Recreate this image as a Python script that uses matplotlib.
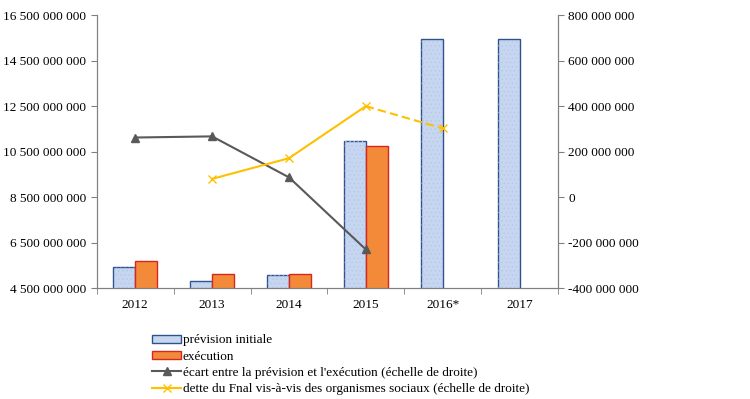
import numpy as np
import matplotlib
matplotlib.use("Agg")
import matplotlib.pyplot as plt
from matplotlib.ticker import FuncFormatter

plt.rcParams['font.family'] = ['Liberation Serif', 'DejaVu Serif']
plt.rcParams['hatch.linewidth'] = 0.4

years = ["2012", "2013", "2014", "2015", "2016*", "2017"]
prevision = [5.44e9, 4.82e9, 5.06e9, 10.96e9, 15.43e9, 15.43e9]
execution = [5.70e9, 5.13e9, 5.13e9, 10.76e9, np.nan, np.nan]
ecart = [262e6, 267e6, 87e6, -230e6, np.nan, np.nan]
dette = [np.nan, 80e6, 171e6, 400e6, 302e6, np.nan]


def fmt(v, pos):
    return f"{int(round(v)):,}".replace(",", " ")


fig = plt.figure(figsize=(7.5, 3.99), dpi=100)
ax = fig.add_axes([0.129, 0.278, 0.615, 0.684])
ax2 = ax.twinx()

x = np.arange(len(years))
w = 0.286
ax.bar(x - w / 2, prevision, w, color='#c6d6f0', edgecolor='#2e528f',
       linewidth=1, label='prévision initiale', zorder=2)
# light texture inside the blue bars
ax.bar(x - w / 2, prevision, w, color='none', edgecolor='#b3c6e8',
       linewidth=0, hatch='....', zorder=2.1)
ax.bar(x + w / 2, execution, w, color='#f28a3a', edgecolor='#d7261e',
       linewidth=1, label='exécution', zorder=2)

ax2.plot(x[:4], ecart[:4], color='#595959', lw=1.5, marker='^', ms=6,
         label="écart entre la prévision et l'exécution (échelle de droite)")
ax2.plot(x[1:4], dette[1:4], color='#ffc000', lw=1.5, marker='x', ms=6,
         label="dette du Fnal vis-à-vis des organismes sociaux (échelle de droite)")
ax2.plot(x[3:5], dette[3:5], color='#ffc000', lw=1.5, ls='--', dashes=(4, 2))
ax2.plot(x[4:5], dette[4:5], color='#ffc000', marker='x', ms=6, ls='none')

ax.set_ylim(4.5e9, 16.5e9)
ax.set_yticks(np.arange(4.5e9, 16.6e9, 2e9))
ax2.set_ylim(-400e6, 800e6)
ax2.set_yticks(np.arange(-400e6, 801e6, 200e6))
ax.yaxis.set_major_formatter(FuncFormatter(fmt))
ax2.yaxis.set_major_formatter(FuncFormatter(fmt))
ax.set_xlim(-0.5, 5.5)
ax.set_xticks(x)
ax.set_xticklabels(years)
ax.set_xticks(np.arange(-0.5, 6, 1), minor=True)
ax.tick_params(axis='x', which='major', length=0, pad=8, labelsize=9.5)
ax.tick_params(axis='x', which='minor', length=4, color='#808080', direction='out')
ax.tick_params(axis='y', length=4, color='#808080', labelsize=9.5)
ax2.tick_params(axis='y', length=4, color='#808080', labelsize=9.5)

for a in (ax, ax2):
    a.spines['top'].set_visible(False)
    for s in ('left', 'right', 'bottom'):
        a.spines[s].set_color('#808080')

h1, l1 = ax.get_legend_handles_labels()
h2, l2 = ax2.get_legend_handles_labels()
fig.legend(h1 + h2, l1 + l2, loc='upper left', bbox_to_anchor=(0.196, 0.175),
           frameon=False, fontsize=9.5, handlelength=2.2, handleheight=0.6,
           handletextpad=0.1, labelspacing=0.32, borderaxespad=0)

fig.savefig("out.png", dpi=100)
